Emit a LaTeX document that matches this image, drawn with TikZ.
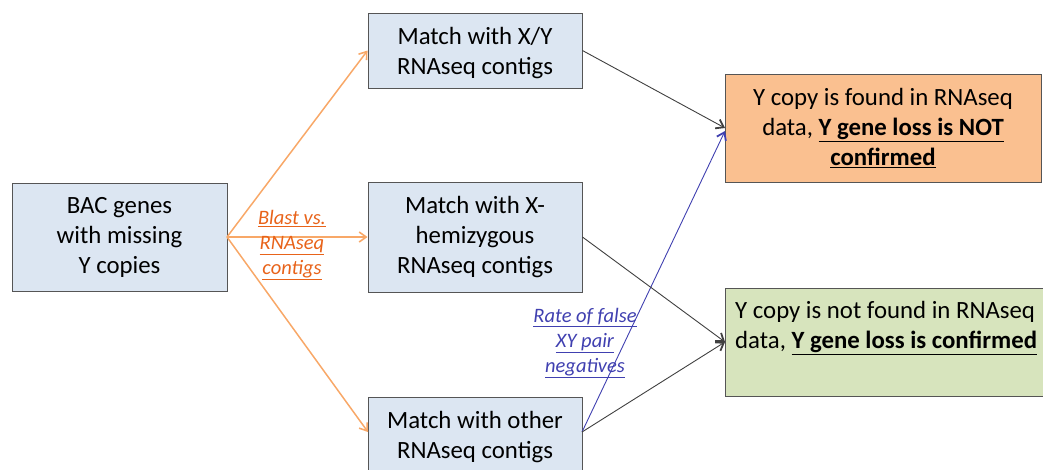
\documentclass[tikz,border=0pt]{standalone}
\usepackage{fontspec}
\setmainfont{Carlito}
\usetikzlibrary{arrows.meta}
\definecolor{boxblue}{HTML}{DCE6F2}
\definecolor{boxorange}{HTML}{FAC090}
\definecolor{boxgreen}{HTML}{D7E4BD}
\definecolor{boxline}{HTML}{555555}
\definecolor{arrorange}{HTML}{F8A868}
\definecolor{txtorange}{HTML}{E8631A}
\definecolor{linblue}{HTML}{4040B0}
\begin{document}
\begin{tikzpicture}[x=1pt,y=-1pt,
  box/.style={draw=boxline,line width=0.9pt,inner sep=0pt,font=\fontsize{24.8}{30}\selectfont,align=center},
  oarr/.style={draw=arrorange,line width=1.5pt,-{Straight Barb[length=7pt,width=10pt,line width=1.6pt]}},
  karr/.style={draw=black!75,line width=0.9pt,-{Straight Barb[length=7pt,width=10pt,line width=1.8pt]}},
  barr/.style={draw=linblue,line width=0.9pt,-{Straight Barb[length=7pt,width=10pt,line width=1.8pt]}},
  lbl/.style={font=\fontsize{20.5}{25}\selectfont\itshape,align=center,inner sep=0pt}]
\useasboundingbox (0,0) rectangle (1043,469);
\begin{scope}
\clip (0,0) rectangle (1043,469);
\node[box,fill=boxblue,minimum width=215pt,minimum height=108pt] (bac) at (119.5,237) {BAC genes\\with missing\\Y copies};
\node[box,fill=boxblue,minimum width=214pt,minimum height=75pt] (xy) at (475,50.5) {};
\node[font=\fontsize{24.8}{30}\selectfont,align=center] (xytxt) at (475,53) {Match with X/Y\\RNAseq contigs};
\node[box,fill=boxblue,minimum width=214pt,minimum height=110pt] (hemi) at (475,237) {Match with X-\\hemizygous\\RNAseq contigs};
\node[box,fill=boxblue,minimum width=214pt,minimum height=80pt,anchor=north] (other) at (475,397) {};
\node[font=\fontsize{24.8}{30}\selectfont,align=center] (othertxt) at (475,437) {Match with other\\RNAseq contigs};
\node[box,fill=boxorange,minimum width=316pt,minimum height=108pt] (found) at (883,128) {Y copy is found in RNAseq\\data, \underline{\textbf{Y gene loss is NOT}}\\\underline{\textbf{confirmed}}};
\node[box,fill=boxgreen,minimum width=330pt,minimum height=108pt,anchor=west] (notfound) at (725,342) {};
\node[font=\fontsize{24.8}{30}\selectfont,align=left,anchor=north west,inner sep=0pt] (nftxt) at (735,301) {Y copy is not found in RNAseq\\data, \underline{\textbf{Y gene loss is confirmed}}};
\end{scope}
\coordinate (bacout) at (227,237);
\coordinate (otherin) at (368,432);
\coordinate (otherout) at (582,432);
\coordinate (foundin) at (725,128);
\coordinate (foundin2) at (725,131);
\coordinate (nfin) at (725,342);
\draw[oarr] (bacout) -- (xy.west);
\draw[oarr] (bacout) -- (hemi.west);
\draw[oarr] (bacout) -- (otherin);
\draw[karr] (xy.east) -- (foundin);
\draw[barr] (otherout) -- (foundin2);
\draw[karr] (hemi.east) -- (nfin);
\draw[karr] (otherout) -- (nfin);
\node[lbl,text=txtorange] (blast) at (292,245) {\underline{Blast vs.}\\\underline{RNAseq}\\\underline{contigs}};
\node[lbl,text=linblue] (rate) at (585,343) {\underline{Rate of false}\\\underline{XY pair}\\\underline{negatives}};
\end{tikzpicture}
\end{document}
